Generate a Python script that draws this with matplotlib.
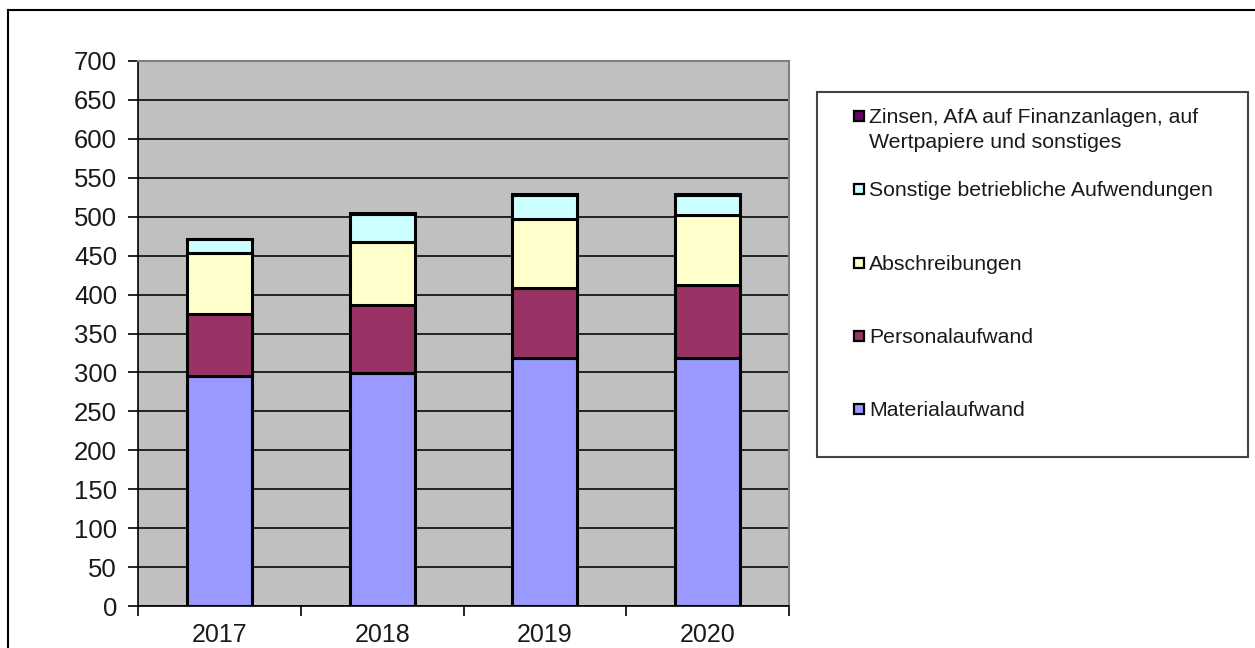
import matplotlib
matplotlib.use('Agg')
import matplotlib.pyplot as plt
from matplotlib.patches import Rectangle
from matplotlib.lines import Line2D
import numpy as np

plt.rcParams['font.family'] = ['Liberation Sans', 'DejaVu Sans']

years = ['2017', '2018', '2019', '2020']
material = [295, 299, 319, 319]
personal = [80, 87, 90, 93]
abschreibungen = [78, 82, 88, 90]
sonstige = [18, 36, 31, 26]
zinsen = [1, 1, 1, 1]

series = [
    ('Materialaufwand', material, '#9999FF'),
    ('Personalaufwand', personal, '#993366'),
    ('Abschreibungen', abschreibungen, '#FFFFCC'),
    ('Sonstige betriebliche Aufwendungen', sonstige, '#CCFFFF'),
    ('Zinsen, AfA auf Finanzanlagen, auf\nWertpapiere und sonstiges', zinsen, '#660066'),
]

W, H = 1255, 648
fig = plt.figure(figsize=(W / 100, H / 100), dpi=100)
ax = fig.add_axes([138 / W, 1 - 606 / H, (789 - 138) / W, (606 - 61) / H])
ax.set_facecolor('#C0C0C0')

x = np.arange(len(years))
bottom = np.zeros(len(years))
for name, vals, col in series:
    ax.bar(x, vals, width=0.4, bottom=bottom, color=col, edgecolor='black',
           linewidth=2.2, zorder=3)
    bottom += np.array(vals)

ax.set_xlim(-0.5, len(years) - 0.5)
ax.set_ylim(0, 700)
ax.set_yticks(np.arange(0, 701, 50))
ax.yaxis.grid(True, color='#222222', linewidth=1.4, zorder=1)
ax.set_axisbelow(True)

ax.set_xticks(x)
ax.set_xticklabels(years)
ax.set_xticks(np.arange(-0.5, len(years), 1), minor=True)
ax.tick_params(axis='x', which='major', length=0, labelsize=18, pad=12,
               labelcolor='#1a1a1a')
ax.tick_params(axis='x', which='minor', length=7, width=1.2, direction='out')
ax.tick_params(axis='y', length=7, width=1.2, labelsize=18.5, pad=8,
               labelcolor='#1a1a1a')

for s in ['top', 'right']:
    ax.spines[s].set_color('#808080')
    ax.spines[s].set_linewidth(1.5)
for s in ['left', 'bottom']:
    ax.spines[s].set_color('black')
    ax.spines[s].set_linewidth(1.2)

# outer chart frame (top and left edges)
fig.add_artist(Line2D([8 / W, 1], [1 - 10 / H, 1 - 10 / H], color='black', lw=1.5))
fig.add_artist(Line2D([8 / W, 8 / W], [0, 1 - 10 / H], color='black', lw=1.5))

# legend box, drawn in figure pixels
fig.add_artist(Rectangle((817 / W, 1 - 457 / H), (1248 - 817) / W, (457 - 92) / H,
                         transform=fig.transFigure, facecolor='white',
                         edgecolor='#444444', lw=1.5))
rows_y = [409, 336, 263, 189, 116]
line_gap = 25
for (name, vals, col), ry in zip(series, rows_y):
    fig.add_artist(Rectangle((854 / W, 1 - (ry + 5) / H), 10 / W, 10 / H,
                             transform=fig.transFigure, facecolor=col,
                             edgecolor='black', lw=1.6))
    for k, line in enumerate(name.split('\n')):
        fig.text(869 / W, 1 - (ry + 7 + k * line_gap) / H, line, fontsize=15.3,
                 va='baseline', ha='left', color='#1a1a1a')

plt.savefig('out.png', dpi=100)
